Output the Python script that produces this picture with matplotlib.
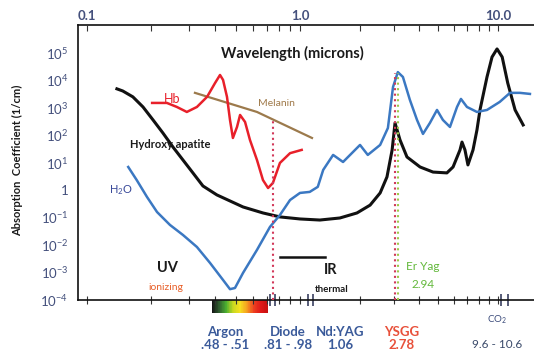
import numpy as np
import matplotlib
matplotlib.use("Agg")
import matplotlib.pyplot as plt
from matplotlib.colors import LinearSegmentedColormap

# --- data (wavelength in microns, absorption in 1/cm) ---
hydroxy_wl = [0.138, 0.147, 0.164, 0.183, 0.204, 0.227, 0.253, 0.282, 0.314, 0.350,
              0.407, 0.540, 0.670, 0.805, 1.0, 1.26, 1.59, 1.94, 2.26, 2.54, 2.75,
              2.92, 3.02, 3.20, 3.47, 4.04, 4.70, 5.52, 5.93, 6.43, 6.58, 6.81, 7.05,
              7.48, 7.83, 8.11, 8.80, 9.33, 9.89, 10.5, 11.2, 12.2, 13.4]
hydroxy_abs = [4.9e3, 4.1e3, 2.5e3, 1.07e3, 359, 120, 37, 12.4, 4.2, 1.4,
               0.66, 0.24, 0.145, 0.104, 0.0875, 0.080, 0.095, 0.145, 0.28, 0.78, 3.0,
               29, 279, 67, 16, 6.9, 4.5, 4.2, 6.9, 29, 56, 29, 8.2,
               29, 155, 832, 1.33e4, 7.1e4, 1.4e5, 7.1e4, 8.0e3, 832, 236]

water_wl = [0.156, 0.171, 0.191, 0.213, 0.245, 0.282, 0.328, 0.378, 0.435, 0.469,
            0.495, 0.540, 0.628, 0.723, 0.805, 0.898, 1.0, 1.12, 1.23, 1.31, 1.47,
            1.65, 2.01, 2.20, 2.54, 2.78, 2.95, 3.12, 3.31, 3.59, 3.90, 4.18, 4.53,
            4.92, 5.27, 5.72, 6.21, 6.50, 6.97, 7.83, 8.80, 10.2, 11.5, 12.9, 14.5]
water_abs = [6.9, 2.3, 0.56, 0.157, 0.053, 0.0228, 0.0083, 2.17e-3, 5.2e-4, 2.4e-4,
             2.65e-4, 9.4e-4, 6.5e-3, 0.045, 0.122, 0.43, 0.78, 0.85, 1.3, 5.4, 19,
             10.5, 44, 19, 44, 183, 5.7e3, 2.0e4, 1.33e4, 1.93e3, 359, 111, 279,
             832, 359, 199, 1.07e3, 2.1e3, 1.07e3, 703, 832, 1.63e3, 3.5e3, 3.5e3, 3.2e3]

hb_wl = [0.202, 0.237, 0.264, 0.294, 0.328, 0.366, 0.399, 0.421, 0.435, 0.454,
         0.469, 0.484, 0.506, 0.523, 0.552, 0.582, 0.628, 0.670, 0.708, 0.746,
         0.805, 0.898, 1.02]
hb_abs = [1.5e3, 1.5e3, 1.07e3, 703, 1.07e3, 2.5e3, 8.0e3, 1.57e4, 1.04e4, 2.5e3,
          359, 79, 199, 546, 303, 67, 12.4, 2.3, 1.18, 1.8,
          9.7, 22, 29]

melanin_wl = [0.321, 0.628, 1.15]
melanin_abs = [3.5e3, 703, 79]

# laser markers
diode_line = 0.75
diode_top = 350
ysgg_line = 3.02
eryag_line = 3.14
ysgg_top = 1.86e4
laser_ticks = [0.72, 0.76, 1.10, 1.16, 10.4, 11.2]
ir_bar_wl = [0.805, 1.34]
ir_bar_y = 3.6e-3
visible_range = [0.386, 0.707]

major_x = [0.1, 1, 10]
minor_x = [0.2, 0.3, 0.4, 0.5, 0.6, 0.7, 0.8, 0.9, 2, 3, 4, 5, 6, 7, 8, 9]
y_ticks = [1e-4, 1e-3, 1e-2, 1e-1, 1, 1e1, 1e2, 1e3, 1e4, 1e5]
y_labels = [r"$10^{-4}$", r"$10^{-3}$", r"$10^{-2}$", r"$10^{-1}$", "1",
            r"$10^{1}$", r"$10^{2}$", r"$10^{3}$", r"$10^{4}$", r"$10^{5}$"]

plt.rcParams["font.family"] = ["Lato", "DejaVu Sans"]
plt.rcParams["mathtext.fontset"] = "custom"
plt.rcParams["mathtext.rm"] = "Lato"
plt.rcParams["mathtext.it"] = "Lato:italic"
plt.rcParams["mathtext.bf"] = "Lato:bold"

W, H = 534, 353
SLATE = "#44507c"


# the decades are not quite equal on the original, first one is a bit wider
def fwd(x):
    lx = np.log10(np.clip(x, 1e-9, None))
    return np.where(lx < 0, lx * 1.075, lx)


def inv(v):
    v = np.asarray(v, dtype=float)
    return 10 ** np.where(v < 0, v / 1.075, v)


fig = plt.figure(figsize=(W / 100, H / 100), dpi=100)
ax = fig.add_axes([78 / W, 53 / H, 456 / W, 275 / H])
ax.set_xscale("function", functions=(fwd, inv))
ax.set_yscale("log")

# --- curves ---
ax.plot(hydroxy_wl, hydroxy_abs, color="#111111", lw=2.2, zorder=2)
ax.plot(water_wl, water_abs, color="#3b78c2", lw=1.8, zorder=2)
ax.plot(melanin_wl, melanin_abs, color="#9c7a4c", lw=1.6, zorder=2)
ax.plot(hb_wl, hb_abs, color="#e8202a", lw=1.8, zorder=2)

# dotted laser lines
ax.plot([diode_line, diode_line], [1e-4, diode_top], ls=":", color="#d2385a", lw=1.5, zorder=3)
ax.plot([ysgg_line, ysgg_line], [1e-4, ysgg_top], ls=":", color="#d03a5a", lw=1.5, zorder=3)
ax.plot([eryag_line, eryag_line], [1e-4, ysgg_top], ls=":", color="#9cc84a", lw=1.5, zorder=3)

# IR bar
ax.plot(ir_bar_wl, [ir_bar_y, ir_bar_y], color="#111111", lw=1.8)

# visible spectrum strip under the axis
cmap = LinearSegmentedColormap.from_list(
    "vis", ["#151515", "#2f5f2f", "#4caf30", "#c8d820", "#f5e020", "#f5a020",
            "#ee4020", "#e01818", "#c81010"])
edges = np.geomspace(visible_range[0], visible_range[1], 81)
for i in range(80):
    ax.axvspan(edges[i], edges[i + 1], ymin=-0.047, ymax=0, color=cmap(i / 79),
               lw=0, clip_on=False, zorder=1)

# double marks on the bottom axis
ax.vlines(laser_ticks, -0.022, 0.022, transform=ax.get_xaxis_transform(),
          colors="#3a4060", lw=1.2, clip_on=False)

ax.set_xlim(0.0906, 15.2)
ax.set_ylim(10 ** -4.015, 10 ** 6.02)

for side in ["left", "top", "bottom"]:
    ax.spines[side].set_color("#111111")
    ax.spines[side].set_linewidth(1.2)
ax.spines["right"].set_visible(False)

ax.set_xticks(major_x + minor_x)
ax.set_xticklabels([])
ax.set_xticks([], minor=True)
ax.tick_params(axis="x", which="both", direction="inout", length=6, width=0.8,
               color="#333333", labelbottom=False)
ax.set_yticks(y_ticks)
ax.set_yticklabels(y_labels)
ax.set_yticks([], minor=True)
ax.tick_params(axis="y", length=0, pad=7, labelsize=9.5, labelcolor=SLATE)

# top axis with the wavelength labels
ax2 = ax.twiny()
ax2.set_xscale("function", functions=(fwd, inv))
ax2.set_xlim(ax.get_xlim())
ax2.set_xticks(major_x)
ax2.set_xticklabels(["0.1", "1.0", "10.0"])
ax2.set_xticks(minor_x, minor=True)
ax2.tick_params(axis="x", which="both", direction="in", length=4, width=0.8,
                color="#333333", pad=2, labelsize=9.5, labelcolor=SLATE)
for lbl in ax2.get_xticklabels():
    lbl.set_fontweight("bold")
for s in ax2.spines.values():
    s.set_visible(False)


def put(x, y, s, **kw):
    fig.text(x / W, 1 - y / H, s, ha="center", va="center", **kw)


put(292, 53, "Wavelength (microns)", size=10.5, weight="bold", color="#1a1a1a")
put(18, 160, "Absorption  Coefficient (1/cm)", rotation=90, size=8, weight="bold",
    color="#1a1a1a")
put(172, 99, "Hb", color="#e8202a", size=9)
put(276, 104, "Melanin", color="#a07a4a", size=7.5)
put(170, 145, "Hydroxy apatite", size=8, weight="bold", color="#1a1a1a")
put(121, 190, "H$_2$O", color="#3a4a9a", size=8)
put(167, 268, "UV", size=10.5, weight="bold", color="#1a1a1a")
put(166, 287, "ionizing", color="#e8602a", size=7.5)
put(331, 270, "IR", size=10.5, weight="bold", color="#1a1a1a")
put(332, 289, "thermal", size=7, weight="bold", color="#1a1a1a")
put(423, 267, "Er Yag", color="#62b83a", size=8.5)
put(423, 285, "2.94", color="#62b83a", size=8.5)

BLUE = "#3a5a9a"
put(225, 332, "Argon", color=BLUE, size=9.5, weight="bold")
put(225, 345, ".48 - .51", color=BLUE, size=9.5, weight="bold")
put(288, 332, "Diode", color=BLUE, size=9.5, weight="bold")
put(288, 345, ".81 - .98", color=BLUE, size=9.5, weight="bold")
put(340, 332, "Nd:YAG", color=BLUE, size=9.5, weight="bold")
put(340, 345, "1.06", color=BLUE, size=9.5, weight="bold")
put(402, 332, "YSGG", color="#e8503a", size=9.5, weight="bold")
put(402, 345, "2.78", color="#e8503a", size=9.5, weight="bold")
put(497, 320, "CO$_2$", color="#3a4a7a", size=7)
put(497, 345, "9.6 - 10.6", color="#3a4a6a", size=8.5)

fig.savefig("out.png", dpi=100)
